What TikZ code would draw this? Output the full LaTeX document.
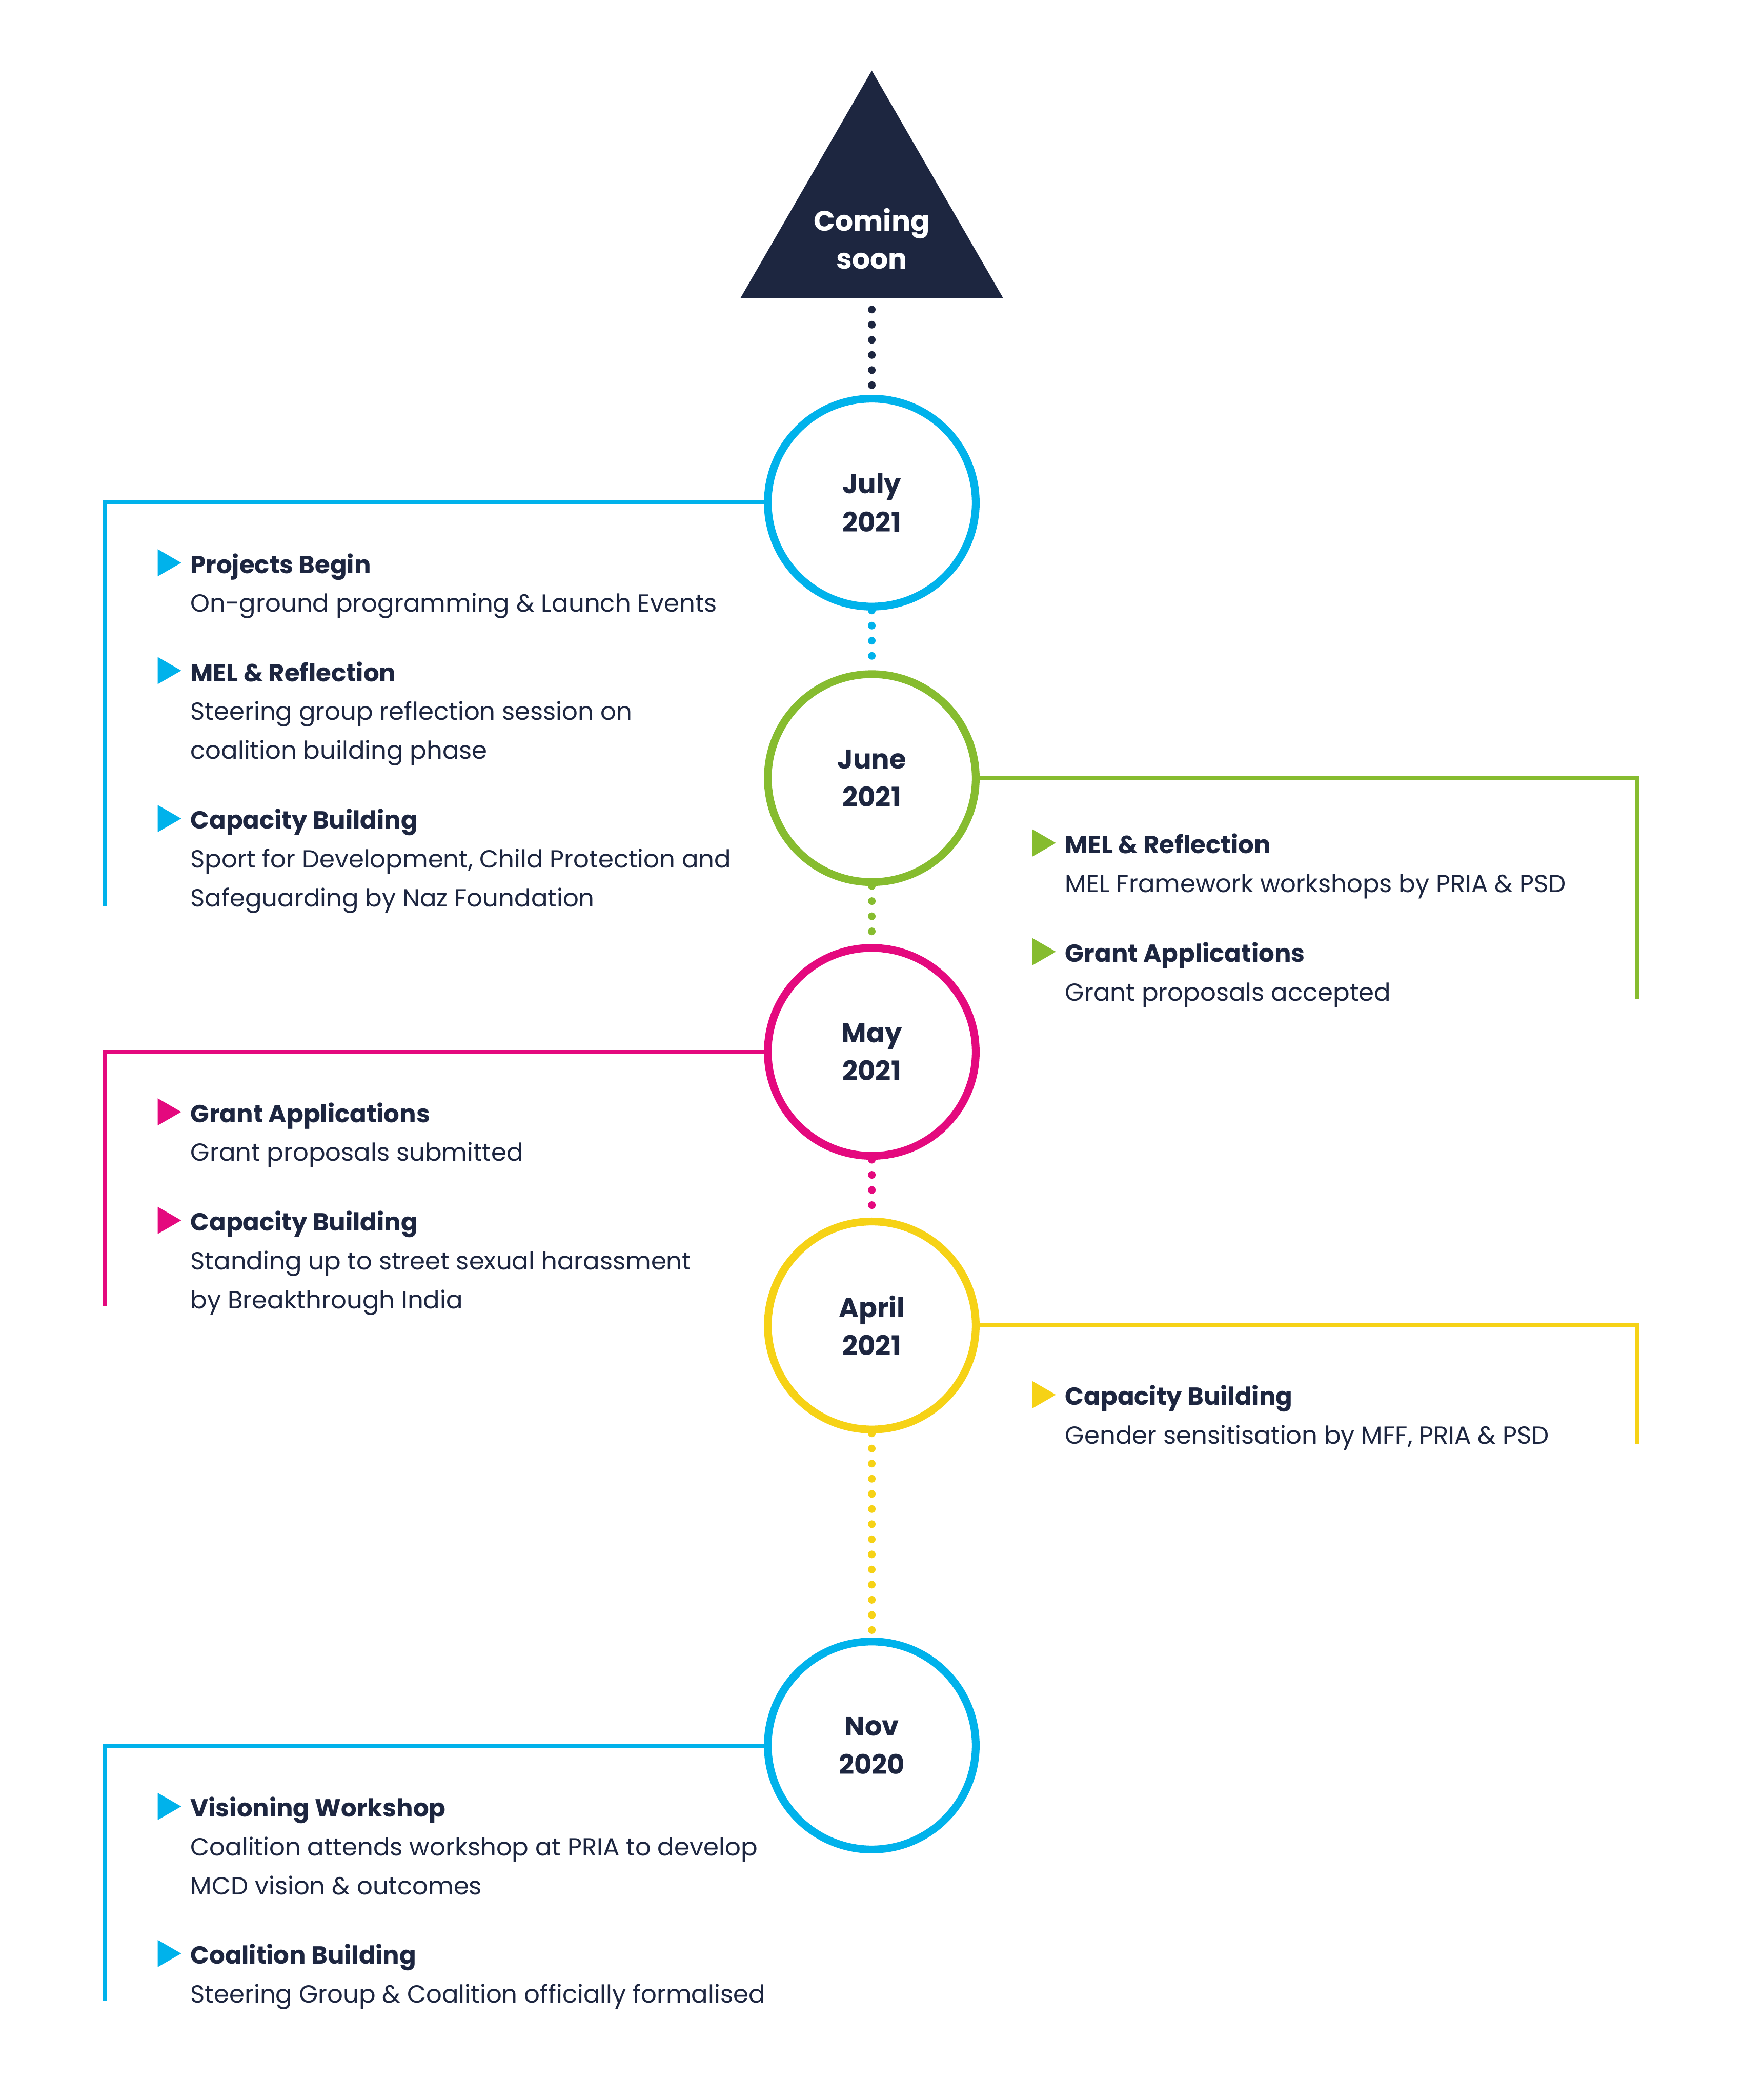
\documentclass[tikz,border=0pt]{standalone}
\usepackage{fontspec}
\setmainfont{Poppins}
\usetikzlibrary{shapes.geometric}

\definecolor{tlnavy}{HTML}{1D2640}
\definecolor{tlblue}{HTML}{00B2EB}
\definecolor{tlgreen}{HTML}{86BC2F}
\definecolor{tlpink}{HTML}{E4097E}
\definecolor{tlyellow}{HTML}{F6D216}

\tikzset{
  soon/.style={regular polygon, regular polygon sides=3, fill=tlnavy,
    minimum size=4.536cm, inner sep=0},
  soonlabel/.style={text=white, align=center, inner sep=0,
    font=\fontsize{12}{16}\selectfont\bfseries},
  month/.style={circle, draw=#1, fill=white, line width=0.116cm,
    minimum size=3.106cm, inner sep=0, align=center, text=tlnavy,
    font=\fontsize{11.5}{16.2}\selectfont\bfseries},
  dotline/.style={draw=#1, line width=0.114cm, line cap=round,
    dash pattern=on 0pt off 0.226cm},
  arm/.style={draw=#1, line width=0.06cm},
  pointer/.style={regular polygon, regular polygon sides=3, rotate=-90,
    fill=#1, minimum size=0.468cm, inner sep=0},
  % items are placed at the baseline of their last line
  item/.style={anchor=base west, inner sep=0, align=left, text=tlnavy,
    font=\fontsize{10.5}{16.5}\selectfont}
}

\begin{document}
\begin{tikzpicture}[x=0.02cm, y=-0.02cm]
  \useasboundingbox[fill=white] (0,0) rectangle (1302,1568);

  % timeline
  \node[soon] (soon) at (651,166.1) {};
  \node[soonlabel] (soonlbl) at (651,178.2) {Coming\\soon};
  \node[month=tlblue] (jul) at (651,375.3) {July\\2021};
  \node[month=tlgreen] (jun) at (651,581) {June\\2021};
  \node[month=tlpink] (may) at (651,785.4) {May\\2021};
  \node[month=tlyellow] (apr) at (651,989.7) {April\\2021};
  \node[month=tlblue] (nov) at (651,1303.3) {Nov\\2020};

  \draw[dotline=tlnavy, shorten <=0.16cm, shorten >=0.13cm] (soon.side 2) -- (jul.north);
  \draw[dotline=tlblue] (jul.south) -- (jun.north);
  \draw[dotline=tlgreen] (jun.south) -- (may.north);
  \draw[dotline=tlpink] (may.south) -- (apr.north);
  \draw[dotline=tlyellow] (apr.south) -- (nov.north);

  % arms
  \coordinate (julend) at (78.4,676.9);
  \coordinate (junend) at (1222.7,746);
  \coordinate (mayend) at (78.4,975);
  \coordinate (aprend) at (1222.7,1078);
  \coordinate (novend) at (78.4,1494);
  \draw[arm=tlblue] (jul.west) -| (julend);
  \draw[arm=tlgreen] (jun.east) -| (junend);
  \draw[arm=tlpink] (may.west) -| (mayend);
  \draw[arm=tlyellow] (apr.east) -| (aprend);
  \draw[arm=tlblue] (nov.west) -| (novend);

  % July 2021
  \node[pointer=tlblue] (julAp) at (123.6,420.2) {};
  \node[item] (julA) at (141.9,457.0) {\textbf{Projects Begin}\\On-ground programming \& Launch Events};
  \node[pointer=tlblue] (julBp) at (123.6,500.7) {};
  \node[item] (julB) at (141.9,566.8) {\textbf{MEL \& Reflection}\\Steering group reflection session on\\coalition building phase};
  \node[pointer=tlblue] (julCp) at (123.6,611.2) {};
  \node[item] (julC) at (141.9,676.9) {\textbf{Capacity Building}\\Sport for Development, Child Protection and\\Safeguarding by Naz Foundation};

  % June 2021
  \node[pointer=tlgreen] (junAp) at (776.8,629.4) {};
  \node[item] (junA) at (795.1,666.1) {\textbf{MEL \& Reflection}\\MEL Framework workshops by PRIA \& PSD};
  \node[pointer=tlgreen] (junBp) at (776.8,710.6) {};
  \node[item] (junB) at (795.1,747.3) {\textbf{Grant Applications}\\Grant proposals accepted};

  % May 2021
  \node[pointer=tlpink] (mayAp) at (123.6,830.2) {};
  \node[item] (mayA) at (141.9,867.0) {\textbf{Grant Applications}\\Grant proposals submitted};
  \node[pointer=tlpink] (mayBp) at (123.6,911.2) {};
  \node[item] (mayB) at (141.9,977.0) {\textbf{Capacity Building}\\Standing up to street sexual harassment\\by Breakthrough India};

  % April 2021
  \node[pointer=tlyellow] (aprAp) at (776.8,1041.4) {};
  \node[item] (aprA) at (795.1,1078.0) {\textbf{Capacity Building}\\Gender sensitisation by MFF, PRIA \& PSD};

  % Nov 2020
  \node[pointer=tlblue] (novAp) at (123.6,1348.8) {};
  \node[item] (novA) at (141.9,1414.5) {\textbf{Visioning Workshop}\\Coalition attends workshop at PRIA to develop\\MCD vision \& outcomes};
  \node[pointer=tlblue] (novBp) at (123.6,1458.6) {};
  \node[item] (novB) at (141.9,1495.5) {\textbf{Coalition Building}\\Steering Group \& Coalition officially formalised};
\end{tikzpicture}
\end{document}
